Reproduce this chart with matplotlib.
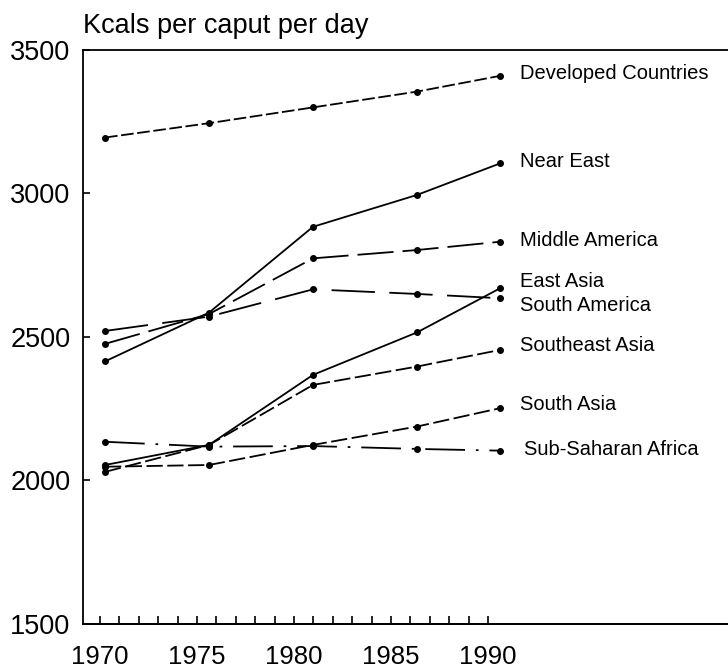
import matplotlib
matplotlib.use("Agg")
import matplotlib.pyplot as plt
from matplotlib import font_manager

# ---- data ----
years = [1970, 1975, 1980, 1985, 1989]
regions = ["Developed Countries", "Near East", "Middle America", "East Asia",
           "South America", "Southeast Asia", "South Asia", "Sub-Saharan Africa"]
developed = [3195, 3245, 3300, 3355, 3410]
near_east = [2415, 2585, 2884, 2995, 3105]
middle_america = [2476, 2580, 2774, 2803, 2832]
east_asia = [2054, 2124, 2368, 2516, 2670]
south_america = [2521, 2571, 2666, 2650, 2635]
southeast_asia = [2030, 2124, 2333, 2397, 2455]
south_asia = [2048, 2054, 2124, 2188, 2252]
sub_saharan = [2135, 2118, 2120, 2110, 2104]
series = [developed, near_east, middle_america, east_asia, south_america,
          southeast_asia, south_asia, sub_saharan]
y_ticks = [1500, 2000, 2500, 3000, 3500]
x_tick_labels = [1970, 1975, 1980, 1985, 1990]
title = "Kcals per caput per day"

names = {f.name for f in font_manager.fontManager.ttflist}
narrow = "Liberation Sans Narrow" if "Liberation Sans Narrow" in names else "Liberation Sans"
plt.rcParams['font.family'] = [narrow, 'DejaVu Sans']

W, H = 728, 670
fig = plt.figure(figsize=(W / 100, H / 100), dpi=100)
left_px, right_px, top_px, bot_px = 83, 728, 50, 624
ax = fig.add_axes([left_px / W, 1 - bot_px / H, (right_px - left_px) / W, (bot_px - top_px) / H])

px_per_year = 20.8
x0_px = 105
ax.set_xlim(1970 + (left_px - x0_px) / px_per_year, 1970 + (right_px - x0_px) / px_per_year)
ax.set_ylim(1500, 3500)

styles = [
    dict(dashes=(7, 2)),
    dict(linestyle='-'),
    dict(dashes=(20, 5)),
    dict(linestyle='-'),
    dict(dashes=(24, 8)),
    dict(dashes=(9, 2.5)),
    dict(dashes=(9, 2.5)),
    dict(dashes=(22, 6, 1.5, 6)),
]
for vals, st in zip(series, styles):
    ax.plot(years, vals, color='black', lw=1.3, marker='o', ms=4, **st)

offsets = [(20, 2), (20, 2), (20, 1), (20, 7), (20, -7), (20, 4), (20, 4), (24, 1)]
for name, vals, off in zip(regions, series, offsets):
    ax.annotate(name, xy=(years[-1], vals[-1]), xytext=off, textcoords='offset pixels',
                ha='left', va='center', fontsize=14.5, family=['Liberation Sans', 'DejaVu Sans'])

# spines
ax.spines['right'].set_visible(False)
for s in ['left', 'top', 'bottom']:
    ax.spines[s].set_linewidth(1.3)

ax.set_yticks(y_ticks)
ax.set_yticklabels([str(v) for v in y_ticks])
ax.tick_params(axis='y', direction='in', length=5, width=1.2, labelsize=19.5, pad=9)
ax.set_xticks([])

# tick-label axis (scanned original's year scale is slightly compressed vs. data points)
tick_px_1970, tick_px_per_year = 100, 19.4
def fwd(x):
    return 1970 + (x0_px - tick_px_1970 + (x - 1970) * px_per_year) / tick_px_per_year
def inv(t):
    return 1970 + ((t - 1970) * tick_px_per_year - (x0_px - tick_px_1970)) / px_per_year
sec = ax.secondary_xaxis('bottom', functions=(fwd, inv))
sec.set_xticks(x_tick_labels)
sec.set_xticks(list(range(1970, 1991)), minor=True)
sec.tick_params(which='both', direction='in', length=6, width=1.2, labelsize=18.5, pad=15)
sec.spines['bottom'].set_linewidth(1.3)

fig.text(left_px / W + 0.0, 1 - 26 / H, title, ha='left', va='center', fontsize=19.5,
         family=['Liberation Sans', 'DejaVu Sans'])

fig.savefig("out.png", dpi=100)
